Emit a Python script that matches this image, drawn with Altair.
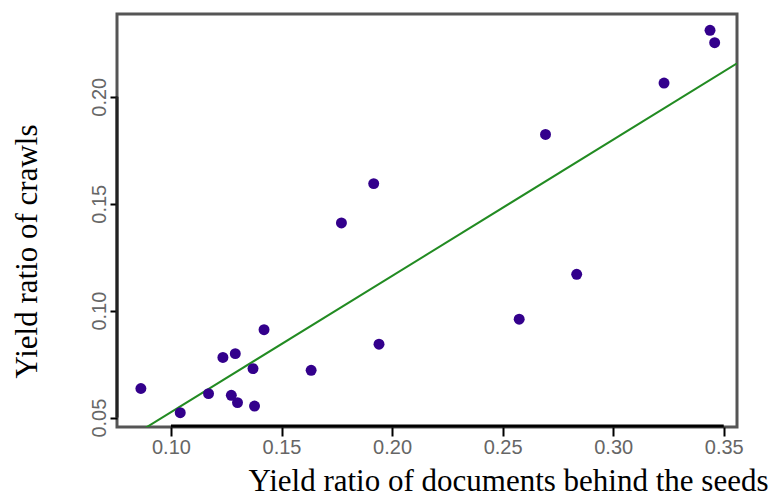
import altair as alt
import pandas as pd

# Data
doc_ratio = [0.0864, 0.1042, 0.1170, 0.1235, 0.1291, 0.1273, 0.1301, 0.1371, 0.1378, 0.1421,
             0.1634, 0.1771, 0.1917, 0.1941, 0.2575, 0.2694, 0.2835, 0.3230, 0.3438, 0.3459]
crawl_ratio = [0.0636, 0.0523, 0.0612, 0.0781, 0.0799, 0.0604, 0.0570, 0.0729, 0.0554, 0.0911,
               0.0721, 0.1410, 0.1594, 0.0843, 0.0960, 0.1824, 0.1170, 0.2064, 0.2311, 0.2253]
x_ticks = [0.10, 0.15, 0.20, 0.25, 0.30, 0.35]
y_ticks = [0.05, 0.10, 0.15, 0.20]
x_domain = [0.0756, 0.356]
y_domain = [0.0456, 0.2387]

W, H = 620, 413

df = pd.DataFrame({"x": doc_ratio, "y": crawl_ratio})
axis_df = pd.DataFrame({
    "x0": [min(x_ticks)], "x1": [max(x_ticks)],
    "y0": [min(y_ticks)], "y1": [max(y_ticks)],
})

xscale = alt.Scale(domain=x_domain, nice=False, zero=False)
yscale = alt.Scale(domain=y_domain, nice=False, zero=False)

xaxis = alt.Axis(
    values=x_ticks, format=".2f", grid=False, domain=False,
    labelFont="Liberation Sans", labelFontSize=20, labelColor="#666666",
    labelPadding=1, labelFlush=False, labelOverlap=False,
    tickColor="#000000", tickWidth=2, tickSize=9,
    title="Yield ratio of documents behind the seeds",
    titleFont="Liberation Serif", titleFontSize=31, titleFontWeight="normal",
    titleColor="#000000", titleX=391, titleY=63, titleAlign="center",
    titleBaseline="alphabetic",
)
yaxis = alt.Axis(
    values=y_ticks, format=".2f", grid=False, domain=False,
    labelFont="Liberation Sans", labelFontSize=20, labelColor="#666666",
    labelAngle=270, labelAlign="center", labelBaseline="alphabetic",
    labelPadding=5, labelFlush=False, labelOverlap=False,
    tickColor="#000000", tickWidth=2, tickSize=7,
    title="Yield ratio of crawls",
    titleFont="Liberation Serif", titleFontSize=31, titleFontWeight="normal",
    titleColor="#000000", titleAngle=270, titleX=-81, titleY=237,
    titleAlign="center", titleBaseline="alphabetic",
)

points = alt.Chart(df).mark_circle(size=120, color="#33008c", opacity=1).encode(
    x=alt.X("x:Q", scale=xscale, axis=xaxis),
    y=alt.Y("y:Q", scale=yscale, axis=yaxis),
)

fit = alt.Chart(df).transform_regression(
    "x", "y", extent=x_domain
).mark_line(color="#228b22", strokeWidth=2, clip=True).encode(
    x=alt.X("x:Q", scale=xscale),
    y=alt.Y("y:Q", scale=yscale),
)

left_line = alt.Chart(axis_df).mark_rule(color="#222222", strokeWidth=3).encode(
    x=alt.value(0),
    y=alt.Y("y0:Q", scale=yscale),
    y2=alt.Y2("y1"),
)
bottom_line = alt.Chart(axis_df).mark_rule(color="#000000", strokeWidth=3).encode(
    x=alt.X("x0:Q", scale=xscale),
    x2=alt.X2("x1"),
    y=alt.value(H - 1),
)

chart = alt.layer(fit, points, left_line, bottom_line).properties(
    width=W, height=H,
    autosize=alt.AutoSizeParams(type="none"),
    padding={"left": 109, "top": 6, "right": 33, "bottom": 70},
).configure_view(
    stroke="#555555", strokeWidth=3
)

chart.save("out.html", embed_options={"renderer": "svg", "actions": False})
